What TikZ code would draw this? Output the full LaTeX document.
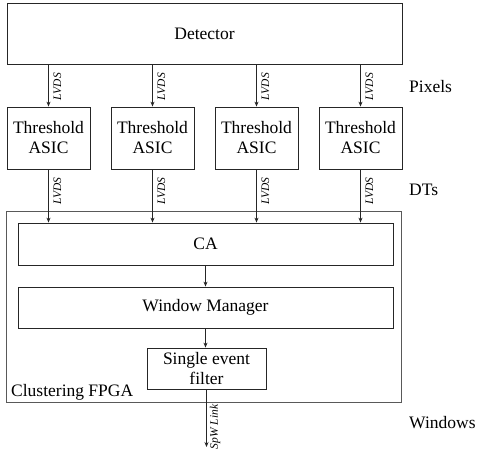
\documentclass[tikz,border=0pt]{standalone}
\usepackage{fontspec}
\setmainfont{Liberation Serif}
\usetikzlibrary{arrows.meta,calc}
\begin{document}
\begin{tikzpicture}[x=1pt,y=-1pt,
  box/.style={draw=black!85,line width=0.8pt,inner sep=0pt,align=center,font=\fontsize{17.5}{20}\selectfont},
  lbl/.style={inner sep=0pt,font=\fontsize{17.5}{20}\selectfont},
  tag/.style={inner sep=0pt,rotate=90,font=\fontsize{11.5}{13}\selectfont\itshape},
  arr/.style={draw=black!85,line width=0.7pt,-{Stealth[length=5pt,width=4pt]}}]
\useasboundingbox (0,0) rectangle (477,457);
\node[box,minimum width=395pt,minimum height=191pt,draw=black!65] (fpga) at (203.5,306.5) {};
\node[box,minimum width=395pt,minimum height=61pt] (det) at (204.5,33.5) {Detector};
\node[box,minimum width=83pt,minimum height=62pt] (t1) at (48.5,138) {Threshold\\ASIC};
\node[box,minimum width=83pt,minimum height=62pt] (t2) at (152.5,138) {Threshold\\ASIC};
\node[box,minimum width=83pt,minimum height=62pt] (t3) at (256.5,138) {Threshold\\ASIC};
\node[box,minimum width=83pt,minimum height=62pt] (t4) at (360.5,138) {Threshold\\ASIC};
\node[box,minimum width=375pt,minimum height=42pt] (ca) at (205.5,244) {CA};
\node[box,minimum width=375pt,minimum height=41pt] (wm) at (205.5,307.5) {Window Manager};
\node[box,minimum width=119pt,minimum height=41pt] (sef) at (206.5,368.5) {Single event\\filter};
\node[lbl,anchor=base west] (cf) at (11,396) {Clustering FPGA};
\node[lbl,anchor=west] (px) at (409,87) {Pixels};
\node[lbl,anchor=west] (dt) at (409,190) {DTs};
\node[lbl,anchor=west] (wi) at (409,423) {Windows};
\coordinate (out) at (206.5,447);
\foreach \t in {t1,t2,t3,t4}{
  \draw[arr] (det.south -| \t.north) -- (\t.north);
  \draw[arr] (\t.south) -- (\t.south |- ca.north);
  \node[tag] at ($(\t.north)+(9,-20)$) {LVDS};
  \node[tag] at ($(\t.south)+(9,22)$) {LVDS};
}
\draw[arr] (ca.south -| wm.north) -- (wm.north);
\draw[arr] (wm.south) -- (wm.south |- sef.north);
\draw[arr] (sef.south) -- (out);
\node[tag] (spw) at (215,427) {SpW Link};
\end{tikzpicture}
\end{document}
